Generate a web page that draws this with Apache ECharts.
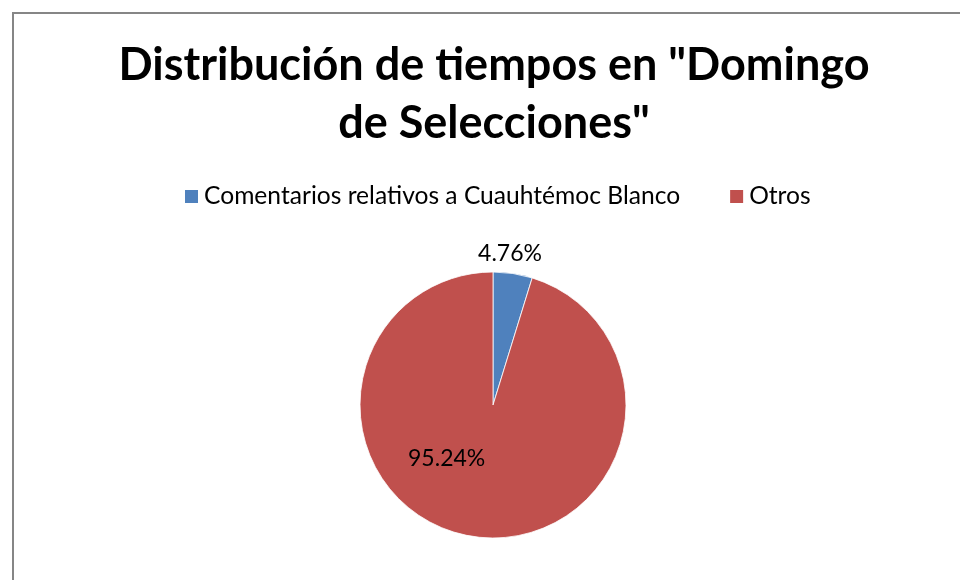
<!DOCTYPE html>
<html>
<head>
<meta charset="utf-8">
<script src="https://cdn.jsdelivr.net/npm/echarts@6/dist/echarts.min.js"></script>
<style>
html,body{margin:0;padding:0;background:#fff;overflow:hidden;}
#frame{position:absolute;left:12px;top:12px;width:980px;height:600px;border-left:2px solid #868686;border-top:2px solid #868686;}
#chart{position:absolute;left:14px;top:14px;width:960px;height:580px;}
</style>
</head>
<body>
<div id="frame"></div>
<div id="chart"></div>
<script>
const titleText = 'Distribución de tiempos en "Domingo\nde Selecciones"';
const categories = ['Comentarios relativos a Cuauhtémoc Blanco', 'Otros'];
const values = [4.76, 95.24];
const colors = ['#4F81BD', '#C0504D'];
const labelPositions = ['outside', 'inside'];

const chart = echarts.init(document.getElementById('chart'));
chart.setOption({
  animation: false,
  title: {
    text: titleText,
    left: 'center',
    top: 17,
    textStyle: {fontFamily: 'Lato', fontWeight: 'bold', fontSize: 45, lineHeight: 58, color: '#000'}
  },
  legend: {
    data: categories,
    top: 165,
    left: 164,
    itemWidth: 15,
    itemHeight: 15,
    itemGap: 48,
    icon: 'rect',
    textStyle: {fontFamily: 'Lato', fontSize: 24.6, color: '#000'}
  },
  series: [{
    type: 'pie',
    center: [479, 391],
    radius: 133,
    startAngle: 90,
    clockwise: true,
    data: categories.map((c, i) => ({
      name: c, value: values[i], itemStyle: {color: colors[i]},
      label: {position: labelPositions[i]}
    })),
    itemStyle: {borderColor: '#fff', borderWidth: 0.8},
    label: {
      formatter: p => p.value.toFixed(2) + '%',
      fontFamily: 'Lato', fontSize: 23, color: '#000'
    },
    labelLine: {show: false},
    labelLayout: function (params) {
      if (params.dataIndex === 0) return {dx: -72, dy: -5};
      return {dx: -36, dy: -15};
    }
  }]
});
</script>
</body>
</html>
